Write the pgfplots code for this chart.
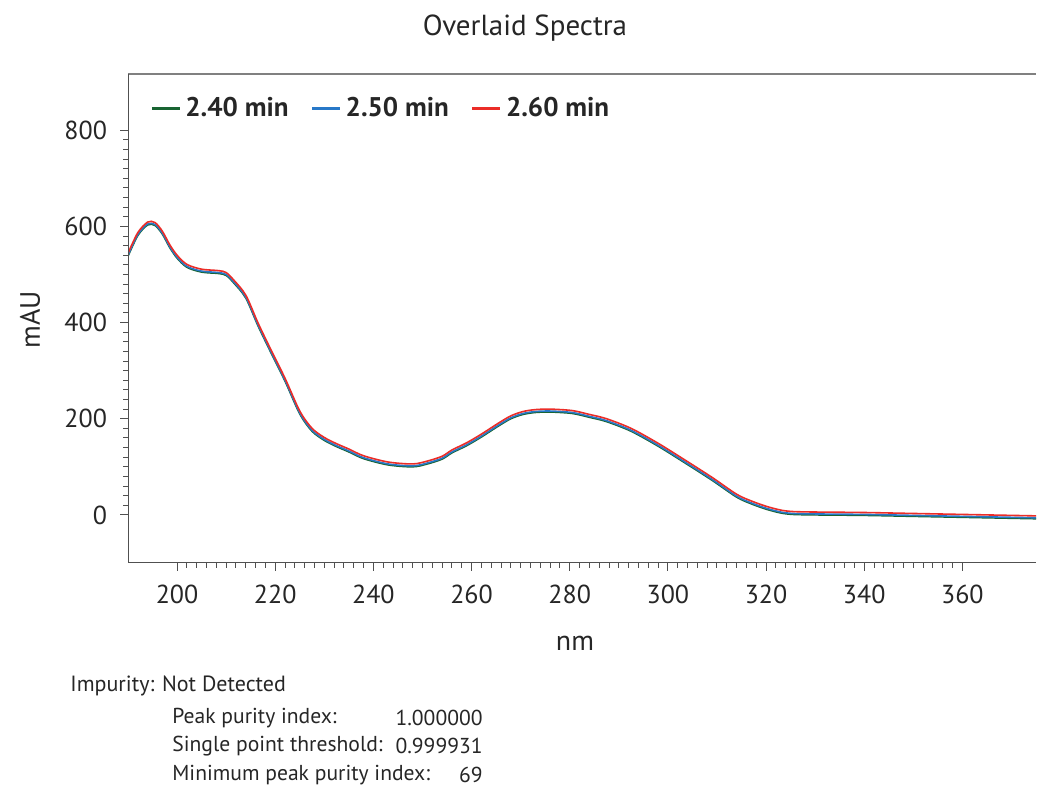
\documentclass[border=0pt]{standalone}
\usepackage{pgfplots}
\pgfplotsset{compat=1.18}
\usepackage{pgfplotstable}
\usepackage{fontspec}
\setmainfont{PT Sans}
\definecolor{cgreen}{RGB}{24,100,50}
\definecolor{cblue}{RGB}{40,120,200}
\definecolor{cred}{RGB}{235,45,40}
\definecolor{axgray}{RGB}{80,80,80}
\pgfplotstableread{
nm b g r
190 540 538 544
192 583 581 587
194 605 603 609
195.5 604 602 608
197 586 584 590
198.5 558 556 562
200 536 534 540
202 517 515 521
205 507 505 511
208.5 504 502 508
210 500 498 504
211.5 485 483 489
214 453 451 457
216.5 395 393 399
219 342 340 346
222 280 278 284
225 212 210 216
227.5 176 174 180
230 157 155 161
232.5 144 142 148
235 133 131 137
238 119 117 123
243 106 104 110
248 102 100 106
251 108 106 112
254 118 116 122
256 131 129 135
259 146 144 150
262 164 162 168
265.5 187 185 191
268 202 200 206
270.5 211 209 215
273 215 213 219
276 216 214 220
280.5 213 211 217
284 205 203 209
287.5 196 194 200
292.5 176 174 180
298 145 143 149
303.5 110 108 114
309 74 72 78
314 39 37 43
317 25 23 29
320 14 12 18
323 6 4 10
325.5 3 1 7
330 2 0 6
340 1 -1 5
350 -1 -3 3
360 -3 -5 1
375 -6 -8 -2
}\spectra
\begin{document}
\begin{tikzpicture}
\useasboundingbox (-64pt,-114pt) rectangle (455pt,281.5pt);
\begin{axis}[
  at={(0,0)}, anchor=south west,
  scale only axis, width=454pt, height=244.5pt,
  xmin=190, xmax=375, ymin=-100, ymax=917,
  axis x line*=bottom, axis y line*=left,
  axis line style={draw=none},
  xtick={200,220,...,360}, ytick={0,200,...,800},
  minor x tick num=9, minor y tick num=9,
  tick align=outside,
  major tick length=4pt, minor tick length=2.5pt,
  every tick/.style={axgray, line width=0.5pt},
  /pgf/number format/assume math mode=true,
  tick label style={font=\fontsize{13}{15}\selectfont, text=black!85},
  xticklabel style={yshift=-3.5pt},
  yticklabel style={xshift=-3pt},
  legend style={draw=none, fill=none, at={(axis description cs:0.024,0.93)}, anchor=west,
    font=\fontsize{13.5}{15}\selectfont\bfseries, text=black!85, inner sep=0pt,
    /tikz/every even column/.append style={column sep=9pt}},
  legend columns=-1,
  legend image code/.code={\draw[#1, line width=1.6pt] (0pt,0pt) -- (14pt,0pt);},
]
\addplot[cgreen, line width=0.8pt, smooth] table[x=nm, y=g] {\spectra};
\addlegendentry{2.40 min}
\addplot[cblue, line width=0.8pt, smooth] table[x=nm, y=b] {\spectra};
\addlegendentry{2.50 min}
\addplot[cred, line width=0.8pt, smooth] table[x=nm, y=r] {\spectra};
\addlegendentry{2.60 min}
\draw[gray, line width=0.8pt] (rel axis cs:0,1) -- (rel axis cs:1,1);
\draw[axgray, line width=0.8pt] (rel axis cs:0,1) -- (rel axis cs:0,0) -- (rel axis cs:1,0);
\end{axis}
\node[font=\fontsize{14.5}{17}\selectfont, text=black!85] at (198.5pt,267.5pt) {Overlaid Spectra};
\node[font=\fontsize{14}{16}\selectfont, text=black!85] at (223.5pt,-40pt) {nm};
\node[font=\fontsize{14}{16}\selectfont, text=black!85, rotate=90] at (-49pt,121.5pt) {mAU};
\node[font=\fontsize{11}{12}\selectfont, text=black!85, anchor=west, inner sep=0pt] at (-29pt,-61.5pt) {Impurity: Not Detected};
\begin{scope}[every node/.style={font=\fontsize{10.8}{12}\selectfont, text=black!85, inner sep=0pt}]
\node[anchor=west] at (22pt,-77.5pt) {Peak purity index:};
\node[anchor=east] at (177.5pt,-77.5pt) {1.000000};
\node[anchor=west] at (22pt,-91.5pt) {Single point threshold:};
\node[anchor=east] at (177.5pt,-91.5pt) {0.999931};
\node[anchor=west] at (22pt,-106pt) {Minimum peak purity index:};
\node[anchor=east] at (177.5pt,-106pt) {69};
\end{scope}
\end{tikzpicture}
\end{document}
